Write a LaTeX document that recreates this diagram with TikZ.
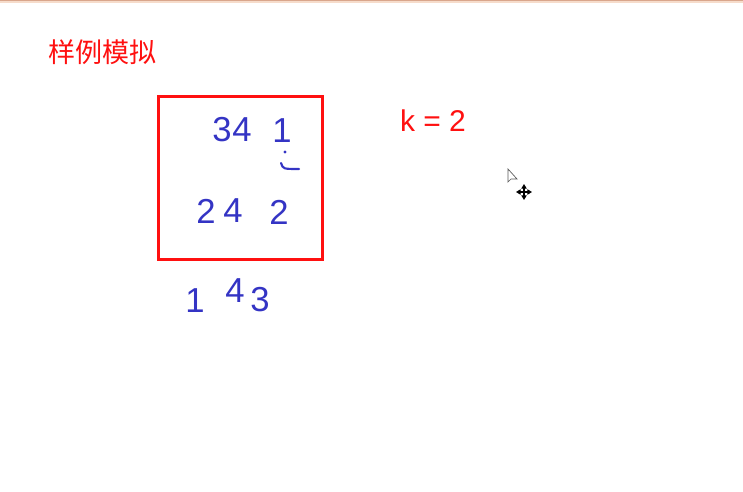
\documentclass[tikz,border=0pt]{standalone}
\usepackage{fontspec}
\newfontfamily\cjk{Noto Sans CJK SC}
\newfontfamily\plain{Liberation Sans}
\definecolor{pen}{HTML}{FF1010}
\definecolor{ink}{HTML}{3434C4}
\definecolor{bar}{HTML}{D9A68C}
\definecolor{barlt}{HTML}{F6DCCB}
\usetikzlibrary{arrows.meta}
\tikzset{
  digit/.style={text=ink,inner sep=0pt,font=\plain\fontsize{26}{26}\selectfont},
  ttl/.style={text=pen,inner sep=0pt,font=\cjk\fontsize{20.3}{20.3}\selectfont},
  lbl/.style={text=pen,inner sep=0pt,font=\plain\fontsize{22.5}{22.5}\selectfont},
  frame/.style={draw=pen,line width=2.25pt},
  stroke/.style={draw=ink,line width=1.6pt,line cap=round},
  movetip/.style={line width=0.9pt,{Triangle[length=3.5pt,width=4pt]}-{Triangle[length=3.5pt,width=4pt]}},
}

\begin{document}
\begin{tikzpicture}[x=0.75pt,y=-0.75pt]
\useasboundingbox (0,0) rectangle (743,492);
\fill[barlt] (0,0) rectangle (743,3);
\fill[bar] (0,0) rectangle (743,1.5);
% title and k
\node[ttl] (title) at (102.5,52) {样例模拟};
\node[lbl] (k) at (433,121) {k = 2};
% window
\draw[frame] (158,97) rectangle (322,259);
% rows of numbers
\node[digit] (a1) at (222,130) {3};
\node[digit] (a2) at (242,130) {4};
\node[digit] (a3) at (282,131) {1};
\node[digit] (b1) at (206,211) {2};
\node[digit] (b2) at (233,211) {4};
\node[digit] (b3) at (279,212) {2};
\node[digit] (c1) at (195,301) {1};
\node[digit] (c2) at (235,291) {4};
\node[digit] (c3) at (260,300) {3};
% small mark under the 1
\fill[ink] (285,152) circle (1.3pt);
\draw[stroke] (281,163) .. controls (283,169) .. (299,169);
% mouse pointers
\draw[gray!70!black,fill=white,line width=0.5pt] (508,169)--(508,182)--(511,179)--(517,179)--cycle;
\draw[movetip] (516,192)--(532,192);
\draw[movetip] (524,184)--(524,200);
\end{tikzpicture}
\end{document}
